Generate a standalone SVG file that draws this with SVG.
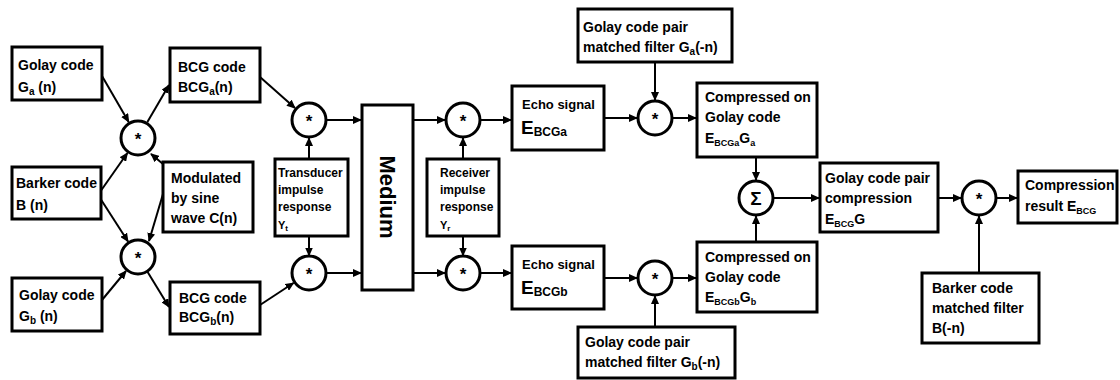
<svg xmlns="http://www.w3.org/2000/svg" width="1120" height="380" viewBox="0 0 1120 380">
<style>
.box{fill:#fff;stroke:#000;stroke-width:3}
.op{fill:#fff;stroke:#000;stroke-width:3}
.c{stroke:#000;stroke-width:2;fill:none;marker-end:url(#ah)}
text{font-family:"Liberation Sans",Arial,sans-serif;font-weight:bold;fill:#000}
.t{font-size:14px}
.s{font-size:12px}
.sym{font-size:17px;text-anchor:middle}
</style>
<defs>
<marker id="ah" markerUnits="userSpaceOnUse" markerWidth="9" markerHeight="8" refX="8" refY="4" orient="auto">
<path d="M0,0 L9,4 L0,8 z" fill="#000"/>
</marker>
</defs>

<g id="connectors">
<line class="c" x1="102" y1="76" x2="128.7" y2="122"/>
<line class="c" x1="100" y1="192" x2="127.4" y2="153"/>
<line class="c" x1="163" y1="164" x2="151" y2="154"/>
<line class="c" x1="147.4" y1="122" x2="169" y2="85"/>
<line class="c" x1="100" y1="198" x2="128" y2="241.5"/>
<line class="c" x1="163" y1="194" x2="149" y2="241"/>
<line class="c" x1="102" y1="300" x2="126" y2="271"/>
<line class="c" x1="147" y1="271" x2="169" y2="307"/>
<line class="c" x1="260" y1="77" x2="295" y2="108"/>
<line class="c" x1="260" y1="305" x2="293.5" y2="283"/>
<line class="c" x1="326" y1="120" x2="361" y2="120"/>
<line class="c" x1="326" y1="273" x2="361" y2="273"/>
<line class="c" x1="309" y1="159" x2="309" y2="138"/>
<line class="c" x1="309" y1="236" x2="309" y2="255.5"/>
<line class="c" x1="413" y1="120" x2="445" y2="120"/>
<line class="c" x1="413" y1="273" x2="445" y2="273"/>
<line class="c" x1="463" y1="159" x2="463" y2="138"/>
<line class="c" x1="463" y1="236" x2="463" y2="255.5"/>
<line class="c" x1="481" y1="120" x2="511" y2="120"/>
<line class="c" x1="481" y1="273" x2="511" y2="273"/>
<line class="c" x1="604" y1="118" x2="637" y2="118"/>
<line class="c" x1="655" y1="62" x2="655" y2="100"/>
<line class="c" x1="673" y1="118" x2="696" y2="118"/>
<line class="c" x1="756" y1="157" x2="756" y2="180"/>
<line class="c" x1="604" y1="278" x2="637" y2="278"/>
<line class="c" x1="655" y1="327" x2="655" y2="296"/>
<line class="c" x1="673" y1="278" x2="696" y2="278"/>
<line class="c" x1="756" y1="242" x2="756" y2="216"/>
<line class="c" x1="774" y1="198" x2="819" y2="198"/>
<line class="c" x1="938" y1="198" x2="961" y2="198"/>
<line class="c" x1="997" y1="198" x2="1017" y2="198"/>
<line class="c" x1="979" y1="273" x2="979" y2="216"/>
</g>

<g id="golay-a">
<rect class="box" x="12" y="47" width="90" height="53"/>
<text class="t" x="18" y="70">Golay code</text>
<text class="t" x="18" y="92">G<tspan font-size="10" dy="3">a</tspan><tspan dy="-3"> (n)</tspan></text>
</g>
<g id="barker">
<rect class="box" x="12" y="167" width="89" height="52"/>
<text class="t" x="16" y="188">Barker code</text>
<text class="t" x="16" y="210">B (n)</text>
</g>
<g id="golay-b">
<rect class="box" x="12" y="278" width="90" height="53"/>
<text class="t" x="19" y="300">Golay code</text>
<text class="t" x="19" y="321">G<tspan font-size="10" dy="3">b</tspan><tspan dy="-3"> (n)</tspan></text>
</g>
<g id="mix-a">
<circle class="op" cx="138" cy="138" r="17"/>
<text class="sym" x="138" y="145">*</text>
</g>
<g id="mix-b">
<circle class="op" cx="138" cy="257" r="17"/>
<text class="sym" x="138" y="264">*</text>
</g>
<g id="modulated">
<rect class="box" x="163" y="162" width="90" height="70"/>
<text class="t" x="171" y="183">Modulated</text>
<text class="t" x="171" y="203">by sine</text>
<text class="t" x="171" y="223">wave C(n)</text>
</g>
<g id="bcg-a">
<rect class="box" x="170" y="48" width="90" height="54"/>
<text class="t" x="178" y="72">BCG code</text>
<text class="t" x="178" y="92">BCG<tspan font-size="10" dy="3">a</tspan><tspan dy="-3">(n)</tspan></text>
</g>
<g id="bcg-b">
<rect class="box" x="170" y="282" width="90" height="52"/>
<text class="t" x="179" y="303">BCG code</text>
<text class="t" x="179" y="322">BCG<tspan font-size="10" dy="3">b</tspan><tspan dy="-3">(n)</tspan></text>
</g>
<g id="conv-ta">
<circle class="op" cx="309" cy="120" r="17"/>
<text class="sym" x="309" y="127">*</text>
</g>
<g id="conv-tb">
<circle class="op" cx="309" cy="273" r="17"/>
<text class="sym" x="309" y="280">*</text>
</g>
<g id="transducer">
<rect class="box" x="275" y="159" width="73" height="77"/>
<text class="s" x="278" y="177">Transducer</text>
<text class="s" x="278" y="194">impulse</text>
<text class="s" x="278" y="211">response</text>
<text x="278" y="229" font-size="11">Y<tspan font-size="8" dy="2">t</tspan></text>
</g>
<g id="medium">
<rect class="box" x="362" y="105" width="51" height="185"/>
<text x="387" y="197" font-size="22" text-anchor="middle" dominant-baseline="central" transform="rotate(90 387 197)">Medium</text>
</g>
<g id="conv-ra">
<circle class="op" cx="463" cy="120" r="17"/>
<text class="sym" x="463" y="127">*</text>
</g>
<g id="conv-rb">
<circle class="op" cx="463" cy="273" r="17"/>
<text class="sym" x="463" y="280">*</text>
</g>
<g id="receiver">
<rect class="box" x="427" y="159" width="72" height="77"/>
<text class="s" x="440" y="177">Receiver</text>
<text class="s" x="440" y="194">impulse</text>
<text class="s" x="440" y="211">response</text>
<text x="440" y="229" font-size="11">Y<tspan font-size="8" dy="2">r</tspan></text>
</g>
<g id="echo-a">
<rect class="box" x="512" y="86" width="92" height="64"/>
<text x="522" y="109" font-size="13">Echo signal</text>
<text x="521" y="134" font-size="19">E<tspan font-size="12" dy="2">BCGa</tspan></text>
</g>
<g id="echo-b">
<rect class="box" x="512" y="246" width="92" height="63"/>
<text x="522" y="269" font-size="13">Echo signal</text>
<text x="521" y="294" font-size="19">E<tspan font-size="12" dy="2">BCGb</tspan></text>
</g>
<g id="mf-a">
<rect class="box" x="578" y="9" width="154" height="53"/>
<text class="t" x="583" y="32">Golay code pair</text>
<text class="t" x="583" y="52">matched filter G<tspan font-size="10" dy="3">a</tspan><tspan dy="-3">(-n)</tspan></text>
</g>
<g id="mf-b">
<rect class="box" x="578" y="327" width="157" height="51"/>
<text class="t" x="585" y="347">Golay code pair</text>
<text class="t" x="585" y="367">matched filter G<tspan font-size="10" dy="3">b</tspan><tspan dy="-3">(-n)</tspan></text>
</g>
<g id="corr-a">
<circle class="op" cx="655" cy="118" r="17"/>
<text class="sym" x="655" y="125">*</text>
</g>
<g id="corr-b">
<circle class="op" cx="655" cy="278" r="17"/>
<text class="sym" x="655" y="285">*</text>
</g>
<g id="compressed-a">
<rect class="box" x="697" y="83" width="120" height="74"/>
<text class="t" x="705" y="102">Compressed on</text>
<text class="t" x="705" y="122">Golay code</text>
<text class="t" x="705" y="143">E<tspan font-size="9" dy="3">BCGa</tspan><tspan dy="-3">G</tspan><tspan font-size="9" dy="3">a</tspan></text>
</g>
<g id="compressed-b">
<rect class="box" x="697" y="242" width="120" height="70"/>
<text class="t" x="705" y="262">Compressed on</text>
<text class="t" x="705" y="282">Golay code</text>
<text class="t" x="705" y="302">E<tspan font-size="9" dy="3">BCGb</tspan><tspan dy="-3">G</tspan><tspan font-size="9" dy="3">b</tspan></text>
</g>
<g id="sum">
<circle class="op" cx="756" cy="198" r="17"/>
<text x="756" y="205" font-size="19" text-anchor="middle" font-weight="normal">Σ</text>
</g>
<g id="pair-compression">
<rect class="box" x="820" y="163" width="118" height="69"/>
<text class="t" x="825" y="183">Golay code pair</text>
<text class="t" x="825" y="203">compression</text>
<text class="t" x="825" y="224">E<tspan font-size="9" dy="3">BCG</tspan><tspan dy="-3">G</tspan></text>
</g>
<g id="barker-corr">
<circle class="op" cx="979" cy="198" r="17"/>
<text class="sym" x="979" y="205">*</text>
</g>
<g id="result">
<rect class="box" x="1018" y="171" width="99" height="52"/>
<text class="t" x="1025" y="190">Compression</text>
<text class="t" x="1025" y="211">result  E<tspan font-size="9" dy="3">BCG</tspan></text>
</g>
<g id="barker-mf">
<rect class="box" x="922" y="273" width="117" height="70"/>
<text class="t" x="932" y="293">Barker code</text>
<text class="t" x="932" y="313">matched filter</text>
<text class="t" x="932" y="333">B(-n)</text>
</g>
</svg>
